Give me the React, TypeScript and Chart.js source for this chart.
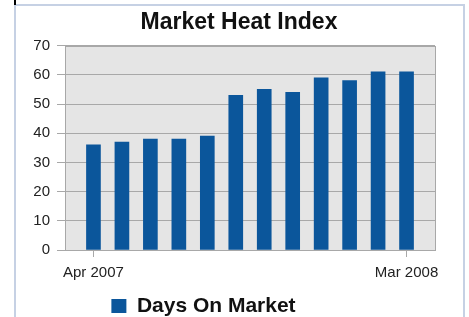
import React, { useEffect, useRef } from 'react';
import { Chart, registerables } from 'chart.js';

Chart.register(...registerables);

const chartTitle = 'Market Heat Index';
const seriesLabel = 'Days On Market';
const months = [
  'Apr 2007', 'May 2007', 'Jun 2007', 'Jul 2007', 'Aug 2007', 'Sep 2007',
  'Oct 2007', 'Nov 2007', 'Dec 2007', 'Jan 2008', 'Feb 2008', 'Mar 2008',
];
const daysOnMarket = [36, 37, 38, 38, 39, 53, 55, 54, 59, 58, 61, 61];
const shownMonthIndexes = [0, 11];
const yMin = 0;
const yMax = 70;
const yStep = 10;

const FONT = "'Liberation Sans', Arial, Helvetica, sans-serif";

const plotBackground = {
  id: 'plotBackground',
  beforeDraw(chart: any) {
    const { ctx, chartArea: a } = chart;
    ctx.save();
    ctx.fillStyle = '#e5e5e5';
    ctx.fillRect(a.left, a.top, a.right - a.left, a.bottom - a.top);
    ctx.restore();
  },
  beforeDatasetsDraw(chart: any) {
    const { ctx, chartArea: a } = chart;
    ctx.save();
    ctx.strokeStyle = '#a8a8a8';
    ctx.lineWidth = 1;
    ctx.strokeRect(Math.round(a.left) + 0.5, Math.round(a.top) + 0.5, Math.round(a.right - a.left), Math.round(a.bottom - a.top));
    ctx.restore();
  },
};

const shiftBoxes = {
  id: 'shiftBoxes',
  afterLayout(chart: any, _args: any, opts: any) {
    const move = (b: any, dx: number, dy: number) => {
      if (!b) return;
      b.left += dx;
      b.right += dx;
      b.top += dy;
      b.bottom += dy;
    };
    move(chart.legend, opts.legendDx || 0, opts.legendDy || 0);
    move(chart.titleBlock, opts.titleDx || 0, opts.titleDy || 0);
  },
};

export default function App() {
  const ref = useRef<HTMLCanvasElement | null>(null);

  useEffect(() => {
    if (!ref.current) return;
    const chart = new Chart(ref.current, {
      type: 'bar',
      data: {
        datasets: [
          {
            label: seriesLabel,
            data: daysOnMarket.map((v, i) => ({ x: i, y: v })),
            backgroundColor: '#0b569b',
            borderWidth: 0,
            barThickness: 14,
          },
        ],
      },
      plugins: [plotBackground, shiftBoxes],
      options: {
        animation: false,
        responsive: false,
        layout: { padding: { left: 16, right: 34, top: 0, bottom: 0 } },
        scales: {
          x: {
            type: 'linear',
            min: -1,
            max: 12,
            offset: false,
            afterBuildTicks: (s: any) => {
              s.ticks = shownMonthIndexes.map((v) => ({ value: v }));
            },
            afterFit: (s: any) => {
              s.height = 36;
            },
            ticks: {
              autoSkip: false,
              maxRotation: 0,
              padding: 7,
              color: '#222',
              font: { family: FONT, size: 15 },
              callback: (v: any) => months[v] ?? '',
            },
            grid: {
              display: true,
              offset: false,
              drawOnChartArea: false,
              drawTicks: true,
              tickLength: 7,
              color: '#a8a8a8',
            },
            border: { display: true, color: '#a8a8a8' },
          },
          y: {
            min: yMin,
            max: yMax,
            afterFit: (s: any) => {
              s.width = 49;
            },
            ticks: {
              stepSize: yStep,
              padding: 7,
              color: '#222',
              font: { family: FONT, size: 15 },
            },
            grid: {
              color: '#a8a8a8',
              tickLength: 8,
            },
            border: { display: true, color: '#a8a8a8' },
          },
        },
        plugins: {
          title: {
            display: true,
            text: chartTitle,
            color: '#111',
            font: { family: FONT, size: 23, weight: 'bold' },
            padding: { top: 9, bottom: 9 },
          },
          legend: {
            display: true,
            position: 'bottom',
            labels: {
              boxWidth: 15,
              boxHeight: 14,
              color: '#111',
              font: { family: FONT, size: 21, weight: 'bold' },
              padding: 0,
            },
          },
          tooltip: { enabled: false },
          // @ts-ignore
          shiftBoxes: { legendDx: -22, legendDy: 9.5, titleDx: 13.5, titleDy: 0 },
        },
      } as any,
    });
    return () => chart.destroy();
  }, []);

  return (
    <div style={{ position: 'fixed', left: 0, top: 0, width: 469, height: 317, background: '#fff', overflow: 'hidden' }}>
      <canvas ref={ref} width={469} height={317} style={{ position: 'absolute', left: 0, top: 0 }} />
      <div style={{ position: 'absolute', left: 14, top: 5, width: 2, height: 312, background: '#c6d1e4' }} />
      <div style={{ position: 'absolute', left: 14, top: 4, width: 451, height: 2, background: '#c6d1e4' }} />
      <div style={{ position: 'absolute', left: 463, top: 4, width: 2, height: 313, background: '#c6d1e4' }} />
      <div style={{ position: 'absolute', left: 14, top: 0, width: 2, height: 5, background: '#000' }} />
    </div>
  );
}
